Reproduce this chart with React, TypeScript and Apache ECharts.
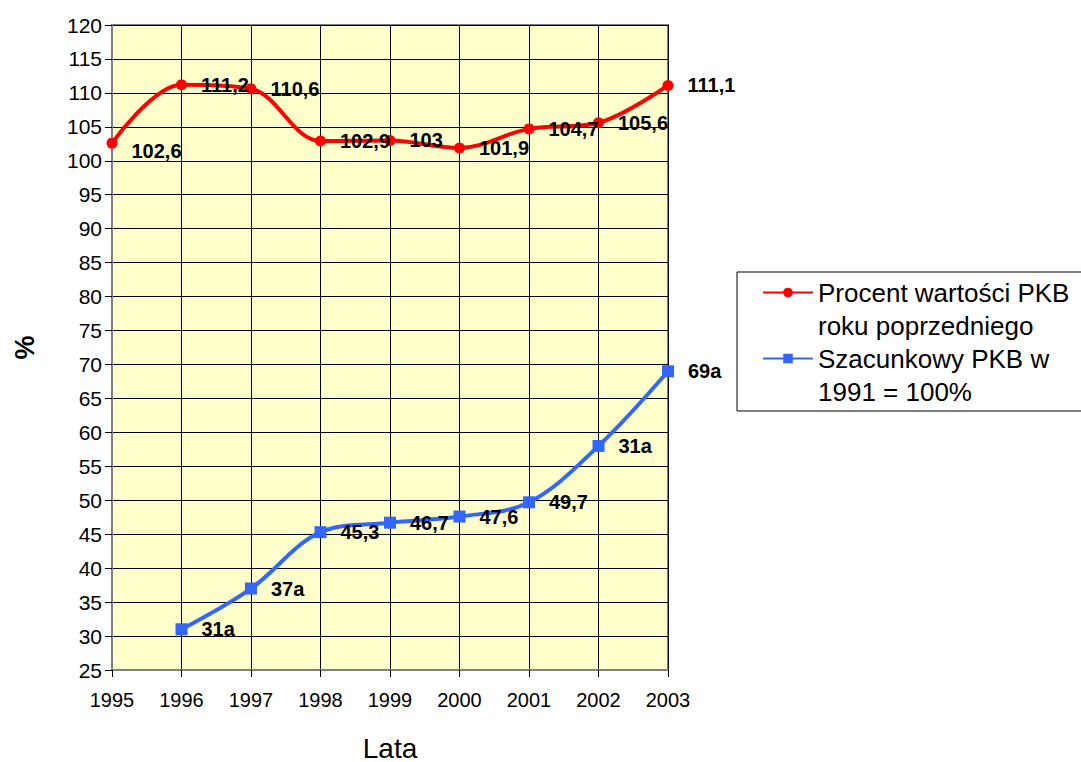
import React, { useEffect, useRef } from "react";
import * as echarts from "echarts";

const years = ["1995", "1996", "1997", "1998", "1999", "2000", "2001", "2002", "2003"];
const redName = "Procent wartości PKB roku poprzedniego";
const blueName = "Szacunkowy PKB w 1991 = 100%";
const redValues = [102.6, 111.2, 110.6, 102.9, 103, 101.9, 104.7, 105.6, 111.1];
const blueValues: (number | null)[] = [null, 31, 37, 45.3, 46.7, 47.6, 49.7, 58, 69];
const blueLabels = ["", "31a", "37a", "45,3", "46,7", "47,6", "49,7", "31a", "69a"];
const legendLines: Record<string, string[]> = {
  [redName]: ["Procent wartości PKB", "roku poprzedniego"],
  [blueName]: ["Szacunkowy PKB w", "1991 = 100%"],
};

const FONT = "Liberation Sans, Arial, sans-serif";

export default function App() {
  const ref = useRef<HTMLDivElement>(null);
  useEffect(() => {
    if (!ref.current) return;
    const chart = echarts.init(ref.current, undefined, { renderer: "svg" });
    const labelBase = {
      show: true,
      position: "right" as const,
      distance: 14,
      fontFamily: FONT,
      fontWeight: "bold" as const,
      fontSize: 20,
      color: "#000",
    };
    chart.setOption({
      animation: false,
      backgroundColor: "#fff",
      textStyle: { fontFamily: FONT },
      grid: {
        left: 112,
        width: 556,
        top: 25,
        height: 645,
        outerBoundsMode: "none",
        containLabel: false,
        show: true,
        backgroundColor: "#FFFFCC",
        borderColor: "#808080",
        borderWidth: 2,
      },
      legend: {
        orient: "vertical",
        left: 762,
        top: 243,
        padding: 0,
        itemGap: -33,
        itemWidth: 50,
        itemHeight: 12,
        data: [redName, blueName],
        formatter: (n: string) => {
          const l = legendLines[n];
          return l ? " \n" + l[0] + "\n" + l[1] : n;
        },
        textStyle: {
          fontFamily: FONT,
          fontSize: 26,
          lineHeight: 33,
          color: "#000",
        },
      },
      graphic: [
        {
          type: "rect",
          shape: { x: 737, y: 272, width: 360, height: 139 },
          style: { fill: "none", stroke: "#000", lineWidth: 1 },
          silent: true,
        },
      ],
      xAxis: {
        type: "category",
        data: years,
        boundaryGap: false,
        name: "Lata",
        nameLocation: "middle",
        nameGap: 64,
        nameTextStyle: { fontFamily: FONT, fontSize: 28, color: "#000" },
        axisLine: { lineStyle: { color: "#808080", width: 2 } },
        axisTick: { show: true, length: 7, lineStyle: { color: "#000" }, alignWithLabel: true },
        axisLabel: { fontFamily: FONT, fontSize: 20, color: "#000", margin: 20 },
        splitLine: { show: true, lineStyle: { color: "#000", width: 1 } },
      },
      yAxis: {
        type: "value",
        min: 25,
        max: 120,
        interval: 5,
        name: "%",
        nameLocation: "middle",
        nameGap: 74,
        nameRotate: 90,
        nameTextStyle: { fontFamily: FONT, fontSize: 27, fontWeight: "bold", color: "#000" },
        axisLine: { show: true, lineStyle: { color: "#808080", width: 2 } },
        axisTick: { show: true, length: 7, lineStyle: { color: "#000" } },
        axisLabel: { fontFamily: FONT, fontSize: 21, color: "#000", margin: 10 },
        splitLine: { show: true, lineStyle: { color: "#000", width: 1 } },
      },
      series: [
        {
          name: redName,
          type: "line",
          smooth: 0.35,
          data: redValues.map((v, i) =>
            i === 0 ? { value: v, label: { offset: [0, 8] } } : v
          ),
          symbol: "circle",
          symbolSize: 11,
          lineStyle: { color: "#FF0000", width: 4 },
          itemStyle: { color: "#FF0000" },
          label: {
            ...labelBase,
            formatter: (p: any) => String(p.value).replace(".", ","),
          },
          z: 3,
        },
        {
          name: blueName,
          type: "line",
          smooth: 0.35,
          data: blueValues,
          symbol: "rect",
          symbolSize: 12,
          lineStyle: { color: "#3366FF", width: 4 },
          itemStyle: { color: "#3366FF" },
          label: {
            ...labelBase,
            formatter: (p: any) => blueLabels[p.dataIndex],
          },
          z: 3,
        },
      ],
    });
    return () => chart.dispose();
  }, []);
  return (
    <div
      ref={ref}
      style={{ position: "fixed", left: 0, top: 0, width: 1081, height: 762 }}
    />
  );
}
